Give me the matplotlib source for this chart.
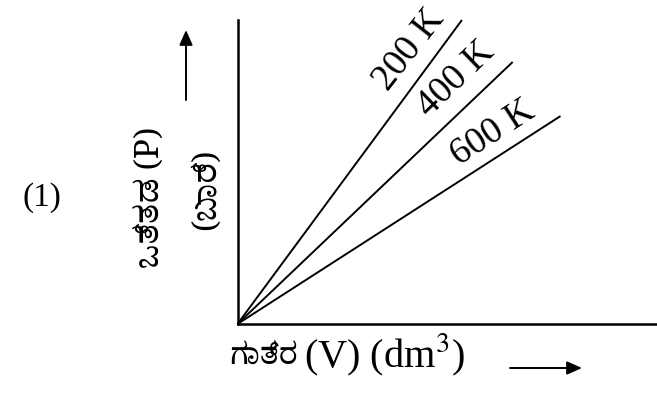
import matplotlib
matplotlib.use("Agg")
import matplotlib.pyplot as plt
from matplotlib import font_manager

# Isotherm data: temperature labels and the end point of each straight line
temps = ["200 K", "400 K", "600 K"]
v_end = [5.35, 6.56, 7.70]
p_end = [10.0, 8.62, 6.84]

x_label_kn = "ಗಾತ್ರ"
x_label_rest = "(V) (dm$^3$)"
y_label_kn = "ಒತ್ತಡ (P)"
y_label_unit = "(ಬಾರ್)"
option_label = "(1)"

serif = ["Liberation Serif", "DejaVu Serif"]
kn_names = sorted({f.name for f in font_manager.fontManager.ttflist if "kannada" in f.name.lower()},
                  key=lambda n: (0 if "serif" in n.lower() else 1, n))
kn_family = kn_names[:1] + ["Noto Sans", "DejaVu Sans"]

W, H = 657, 393
fig = plt.figure(figsize=(W / 100, H / 100), dpi=100)
x0, y0, x1, y1 = 237.5, 324, 657, 20
ax = fig.add_axes([x0 / W, (H - y0) / H, (x1 - x0) / W, (y0 - y1) / H])
ax.set_xlim(0, 10)
ax.set_ylim(0, 10)
for s in ("top", "right"):
    ax.spines[s].set_visible(False)
for s in ("left", "bottom"):
    ax.spines[s].set_linewidth(1.8)
ax.set_xticks([])
ax.set_yticks([])

for t, v, p in zip(temps, v_end, p_end):
    ax.plot([0, v], [0, p], color="black", lw=1.4, clip_on=False, solid_capstyle="butt")

# labels sit just above-left of each line near its upper end, parallel to it
label_pos = [(409, 50, 52), (456, 79, 44), (493, 133, 33)]
for t, (px, py, rot) in zip(temps, label_pos):
    fig.text(px / W, 1 - py / H, t, rotation=rot, rotation_mode="anchor",
             ha="center", va="center", family=serif, fontsize=27)

fig.text(42 / W, 1 - 198 / H, option_label, ha="center", va="center",
         family=serif, fontsize=24)

# y-axis title in two rotated columns, with arrow above
fig.text(150 / W, 1 - 197 / H, y_label_kn, rotation=90, ha="center", va="center",
         family=kn_family + serif, fontsize=24)
fig.text(206 / W, 1 - 189 / H, y_label_unit, rotation=90, ha="center", va="center",
         family=kn_family + serif, fontsize=24)
fig.add_artist(matplotlib.patches.FancyArrowPatch(
    (186 / W, 1 - 100 / H), (186 / W, 1 - 30 / H), transform=fig.transFigure,
    arrowstyle="-|>,head_length=9,head_width=4", color="black", lw=1.4,
    shrinkA=0, shrinkB=0))

# x-axis title with arrow to the right
fig.text(298 / W, 1 - 355 / H, x_label_kn, ha="right", va="center",
         family=kn_family + serif, fontsize=22)
fig.text(304 / W, 1 - 355 / H, x_label_rest, ha="left", va="center",
         family=serif, fontsize=29, math_fontfamily="stix")
fig.add_artist(matplotlib.patches.FancyArrowPatch(
    (510 / W, 1 - 368 / H), (582 / W, 1 - 368 / H), transform=fig.transFigure,
    arrowstyle="-|>,head_length=9,head_width=4", color="black", lw=1.4,
    shrinkA=0, shrinkB=0))

fig.savefig("out.png", dpi=100, facecolor="white")
